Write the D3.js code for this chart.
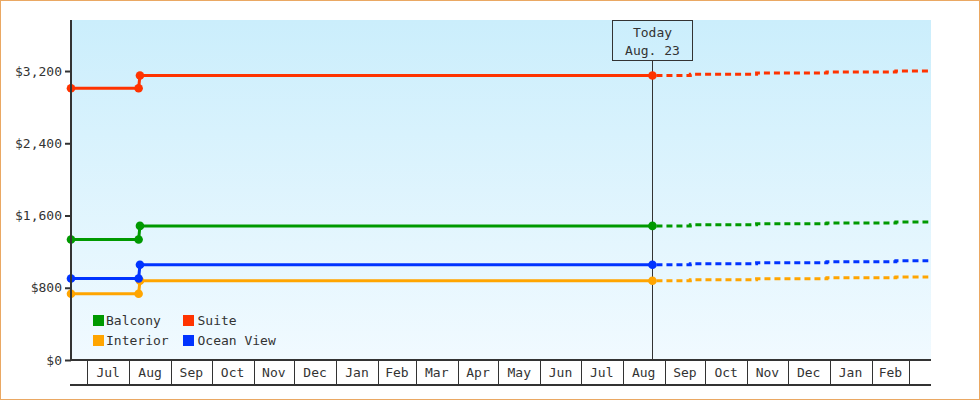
<!DOCTYPE html>
<html><head><meta charset="utf-8">
<script src="https://cdn.jsdelivr.net/npm/d3@7"></script>
<style>
html,body{margin:0;padding:0;background:#fff;}
svg{display:block;}
text{font-family:"DejaVu Sans Mono",monospace;font-size:13px;fill:#333;}
</style></head>
<body>
<script>
// ---- data ----
const seriesNames = ["Balcony", "Suite", "Interior", "Ocean View"];
const seriesColors = ["#009900", "#ff3300", "#ffa500", "#0033ff"];
const historyDates = ["2013-06-19", "2013-08-08", "2013-08-09", "2014-08-23"];
const balconyHistory = [1334, 1334, 1485, 1485];
const suiteHistory = [3010, 3010, 3150, 3150];
const interiorHistory = [734, 734, 877, 877];
const oceanHistory = [903, 903, 1054, 1054];
const forecastDates = ["2014-08-23", "2014-09-20", "2014-11-08", "2014-12-30", "2015-02-19", "2015-03-15"];
const balconyForecast = [1485, 1497, 1508, 1518, 1529, 1529];
const suiteForecast = [3150, 3165, 3178, 3190, 3200, 3200];
const interiorForecast = [877, 888, 899, 910, 920, 920];
const oceanForecast = [1054, 1066, 1078, 1088, 1098, 1098];
const yTicks = [0, 800, 1600, 2400, 3200];
const domainStart = "2013-06-19", domainEnd = "2015-03-17";
const todayDate = "2014-08-23";
const todayLabel = ["Today", "Aug. 23"];

const histories = [balconyHistory, suiteHistory, interiorHistory, oceanHistory];
const forecasts = [balconyForecast, suiteForecast, interiorForecast, oceanForecast];
const parse = d3.utcParse("%Y-%m-%d");

const W = 980, H = 400;
const m = {left: 71, right: 49, top: 20, bottom: 40};
const svg = d3.select("body").append("svg").attr("width", W).attr("height", H);

// outer border
svg.append("rect").attr("x", 0.5).attr("y", 0.5).attr("width", W - 1).attr("height", H - 1)
  .attr("fill", "#fff").attr("stroke", "#eaa863");

const x = d3.scaleUtc().domain([parse(domainStart), parse(domainEnd)]).range([m.left, W - m.right]);
const y = d3.scaleLinear().domain([0, 3765]).range([H - m.bottom, m.top]);

const defs = svg.append("defs");
const grad = defs.append("linearGradient").attr("id", "bg").attr("x1", 0).attr("y1", 0).attr("x2", 0).attr("y2", 1);
grad.append("stop").attr("offset", "0%").attr("stop-color", "#cbeefc");
grad.append("stop").attr("offset", "100%").attr("stop-color", "#f1faff");

const x0 = x.range()[0], x1 = x.range()[1], yb = y(0), yt = y.range()[1];
svg.append("rect").attr("x", x0).attr("y", yt).attr("width", x1 - x0).attr("height", yb - yt).attr("fill", "url(#bg)");

// today line and box
const tx = Math.round(x(parse(todayDate))) + 0.5;
svg.append("line").attr("x1", tx).attr("x2", tx).attr("y1", yt + 40).attr("y2", yb).attr("stroke", "#333").attr("stroke-width", 1);
svg.append("rect").attr("x", tx - 40).attr("y", yt + 0.5).attr("width", 80).attr("height", 40)
  .attr("fill", "none").attr("stroke", "#333").attr("stroke-width", 1);
svg.append("text").attr("x", tx).attr("y", yt + 17).attr("text-anchor", "middle").text(todayLabel[0]);
svg.append("text").attr("x", tx).attr("y", yt + 35).attr("text-anchor", "middle").text(todayLabel[1]);

// series
const lineLinear = d3.line().x(d => x(d[0])).y(d => y(d[1]));
const lineStep = d3.line().x(d => x(d[0])).y(d => y(d[1])).curve(d3.curveStepAfter);
histories.forEach((h, i) => {
  const pts = historyDates.map((d, k) => [parse(d), h[k]]);
  const fpts = forecastDates.map((d, k) => [parse(d), forecasts[i][k]]);
  svg.append("path").attr("d", lineStep(fpts)).attr("fill", "none").attr("stroke", seriesColors[i])
    .attr("stroke-width", 3).attr("stroke-dasharray", "6,4").attr("stroke-dashoffset", -4);
  svg.append("path").attr("d", lineLinear(pts)).attr("fill", "none").attr("stroke", seriesColors[i]).attr("stroke-width", 3);
  svg.selectAll(null).data(pts).join("circle")
    .attr("cx", d => x(d[0])).attr("cy", d => y(d[1])).attr("r", 4.3)
    .attr("fill", seriesColors[i]);
});

// y axis
const yAxis = svg.append("g").attr("transform", `translate(${x0},0)`)
  .call(d3.axisLeft(y).tickValues(yTicks).tickSize(6).tickPadding(3).tickFormat(d => "$" + d3.format(",")(d)));
yAxis.select(".domain").remove();
yAxis.selectAll(".tick line").attr("stroke", "#333").attr("stroke-width", 2);
yAxis.selectAll(".tick text").attr("font-size", 13).attr("font-family", "DejaVu Sans Mono, monospace").attr("fill", "#333");
svg.append("line").attr("x1", x0).attr("x2", x0).attr("y1", yt).attr("y2", yb + 1).attr("stroke", "#333").attr("stroke-width", 2);

// x axis box
svg.append("line").attr("x1", x0 - 1).attr("x2", x1).attr("y1", yb).attr("y2", yb).attr("stroke", "#333").attr("stroke-width", 2);
svg.append("line").attr("x1", x0 - 1).attr("x2", x1).attr("y1", yb + 25).attr("y2", yb + 25).attr("stroke", "#333").attr("stroke-width", 2);
const months = x.ticks(d3.utcMonth.every(1)).filter(d => x(d) > x0 + 1 && x(d) < x1 - 1);
svg.selectAll(null).data(months).join("line")
  .attr("x1", d => Math.round(x(d)) + 0.5).attr("x2", d => Math.round(x(d)) + 0.5)
  .attr("y1", yb).attr("y2", yb + 25).attr("stroke", "#333").attr("stroke-width", 1);
const cells = months.map(d => {
  const a = Math.max(x(d), x0), b = Math.min(x(d3.utcMonth.offset(d, 1)), x1);
  return {d, a, b};
}).filter(c => c.b - c.a > 30);
svg.selectAll(null).data(cells).join("text")
  .attr("x", c => (c.a + c.b) / 2).attr("y", yb + 17).attr("text-anchor", "middle")
  .text(c => d3.utcFormat("%b")(c.d));

// legend
const leg = svg.append("g");
seriesNames.forEach((n, i) => {
  const col = i % 2, row = Math.floor(i / 2);
  const lx = 93 + col * 90, ly = 315 + row * 20;
  leg.append("rect").attr("x", lx).attr("y", ly).attr("width", 11).attr("height", 11).attr("fill", seriesColors[i]);
  leg.append("text").attr("x", lx + 13 + col * 1.5).attr("y", ly + 10).text(n);
});
</script>
</body></html>
